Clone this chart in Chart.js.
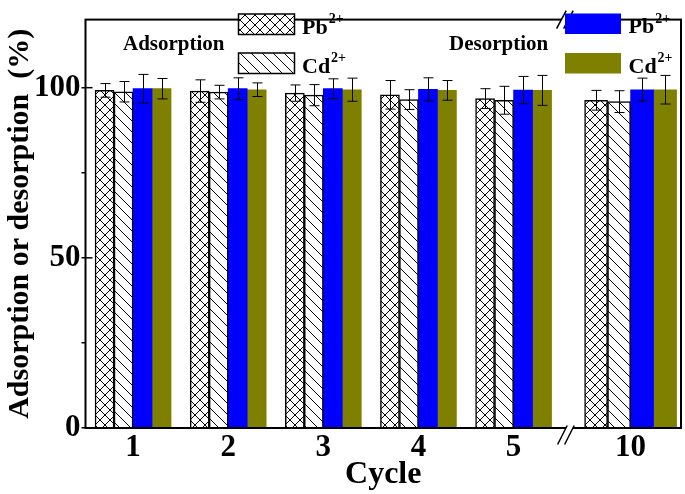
<!DOCTYPE html>
<html><head><meta charset="utf-8">
<script src="https://cdn.jsdelivr.net/npm/chart.js@4/dist/chart.umd.min.js"></script>
<style>html,body{margin:0;padding:0;background:#fff}#wrap{width:685px;height:494px;position:relative}</style>
</head><body><div id="wrap"><canvas id="c" width="685" height="494"></canvas></div>
<script>
// ---- data ----
const cycles = ['1', '2', '3', '4', '5', '10'];
const pbAds = [99.2, 99.0, 98.4, 97.9, 96.8, 96.3];
const pbAdsErr = [2.0, 3.3, 2.4, 4.2, 2.9, 2.9];
const cdAds = [98.8, 98.7, 97.8, 96.5, 96.3, 95.9];
const cdAdsErr = [3.0, 2.0, 3.1, 2.9, 4.1, 3.2];
const pbDes = [99.7, 99.7, 99.7, 99.5, 99.3, 99.4];
const pbDesErr = [4.2, 3.2, 2.9, 3.4, 4.0, 3.4];
const cdDes = [99.7, 99.4, 99.4, 99.2, 99.2, 99.4];
const cdDesErr = [3.0, 2.0, 3.4, 2.9, 4.4, 4.2];
const yTickVals = [0, 25, 50, 75, 100];
const yLabelVals = [0, 50, 100];
const groupTitles = ['Adsorption', 'Desorption'];
const ions = [['Pb', '2+'], ['Cd', '2+']];
const yTitle = 'Adsorption or desorption  (%)';
const xTitle = 'Cycle';

// ---- layout ----
const FONT = "'Liberation Serif','Times New Roman',serif";
const breakIndex = 5;          // categories from this index sit after the axis break
const breakExtra = 0.23;       // extra room taken by the break
const breakAt = 5.55;
const xMin = 0.5, xMax = 6.76;
function xPos(i) { return i + 1 + (i >= breakIndex ? breakExtra : 0); }

const canvas = document.getElementById('c');
const mainCtx = canvas.getContext('2d');
function makeHatch(cross) {
  const s = cross ? 10 : 11;
  const c = document.createElement('canvas'); c.width = s; c.height = s;
  const g = c.getContext('2d');
  g.fillStyle = '#fff'; g.fillRect(0, 0, s, s);
  g.strokeStyle = '#000'; g.lineWidth = 1;
  g.beginPath();
  g.moveTo(-2, -2); g.lineTo(s + 2, s + 2);
  if (cross) { g.moveTo(-2, s + 2); g.lineTo(s + 2, -2); }
  g.stroke();
  return mainCtx.createPattern(c, 'repeat');
}
const hatchX = makeHatch(true);
const hatchD = makeHatch(false);

const series = [
  { label: 'Pb2+ adsorption', vals: pbAds, errs: pbAdsErr, bg: hatchX, bc: '#000', bw: 1.5 },
  { label: 'Cd2+ adsorption', vals: cdAds, errs: cdAdsErr, bg: hatchD, bc: '#000', bw: 1.5 },
  { label: 'Pb2+ desorption', vals: pbDes, errs: pbDesErr, bg: '#0000FF', bc: '#0000FF', bw: 0 },
  { label: 'Cd2+ desorption', vals: cdDes, errs: cdDesErr, bg: '#808000', bc: '#808000', bw: 0 }
];
const datasets = [];
// segment before the break (thinner bars) and after it (wider bars)
[[i => i < breakIndex, 19], [i => i >= breakIndex, 23]].forEach(([keep, thick]) => {
  series.forEach(s => {
    const idx = cycles.map((c, i) => i).filter(keep);
    datasets.push({ label: s.label, data: idx.map(i => ({ x: xPos(i), y: s.vals[i] })),
      errs: idx.map(i => s.errs[i]), backgroundColor: s.bg, borderColor: s.bc, borderWidth: s.bw,
      barThickness: thick, skipNull: true });
  });
});

const errorBars = {
  id: 'errorBars',
  afterDatasetsDraw(chart) {
    const ctx = chart.ctx, ys = chart.scales.y;
    ctx.save(); ctx.strokeStyle = '#000'; ctx.lineWidth = 1;
    chart.data.datasets.forEach((ds, di) => {
      chart.getDatasetMeta(di).data.forEach((el, i) => {
        const v = ds.data[i].y, e = ds.errs[i];
        const x = Math.round(el.x) + 0.5;
        const y1 = ys.getPixelForValue(v + e), y2 = ys.getPixelForValue(v - e);
        ctx.beginPath();
        ctx.moveTo(x, y1); ctx.lineTo(x, y2);
        ctx.moveTo(x - 5, y1); ctx.lineTo(x + 5, y1);
        ctx.moveTo(x - 5, y2); ctx.lineTo(x + 5, y2);
        ctx.stroke();
      });
    });
    ctx.restore();
  }
};

const decor = {
  id: 'decor',
  afterDraw(chart) {
    const ctx = chart.ctx, a = chart.chartArea, ys = chart.scales.y, xs = chart.scales.x;
    ctx.save();
    // frame
    ctx.strokeStyle = '#000'; ctx.lineWidth = 2;
    ctx.strokeRect(a.left, a.top, a.right - a.left, a.bottom - a.top);
    // inward major ticks
    ctx.lineWidth = 1.5;
    yLabelVals.forEach(v => {
      const y = ys.getPixelForValue(v);
      ctx.beginPath(); ctx.moveTo(a.left, y); ctx.lineTo(a.left + 7, y); ctx.stroke();
    });
    // axis breaks
    const bx = xs.getPixelForValue(breakAt);
    function brk(cx, cy, h) {
      const dx = 4.8, sep = 3.5;
      ctx.fillStyle = '#fff';
      ctx.beginPath();
      ctx.moveTo(cx - sep - dx, cy + h); ctx.lineTo(cx - sep + dx, cy - h);
      ctx.lineTo(cx + sep + dx, cy - h); ctx.lineTo(cx + sep - dx, cy + h);
      ctx.closePath(); ctx.fill();
      ctx.strokeStyle = '#000'; ctx.lineWidth = 1.5;
      ctx.beginPath();
      ctx.moveTo(cx - sep - dx, cy + h); ctx.lineTo(cx - sep + dx, cy - h);
      ctx.moveTo(cx + sep - dx, cy + h); ctx.lineTo(cx + sep + dx, cy - h);
      ctx.stroke();
    }
    brk(bx - 1, a.top, 9);
    brk(bx, a.bottom + 7, 9.5);
    // legend
    ctx.fillStyle = '#000';
    ctx.textBaseline = 'alphabetic'; ctx.textAlign = 'left';
    ctx.font = 'bold 21px ' + FONT;
    ctx.fillText(groupTitles[0], 123, 50);
    ctx.fillText(groupTitles[1], 449, 49.5);
    const boxes = [
      { x: 238.5, y: 14, fill: hatchX, stroke: true, ion: ions[0] },
      { x: 238.5, y: 53, fill: hatchD, stroke: true, ion: ions[1] },
      { x: 565, y: 13.5, fill: '#0000FF', stroke: false, ion: ions[0] },
      { x: 565, y: 53, fill: '#808000', stroke: false, ion: ions[1] }
    ];
    boxes.forEach(b => {
      ctx.fillStyle = b.fill; ctx.fillRect(b.x, b.y, 56, 20.5);
      if (b.stroke) { ctx.strokeStyle = '#000'; ctx.lineWidth = 1.5; ctx.strokeRect(b.x, b.y, 56, 20.5); }
      ctx.fillStyle = '#000';
      const tx = b.x + 63.5, base = b.y + 19.5;
      ctx.font = 'bold 22px ' + FONT;
      ctx.fillText(b.ion[0], tx, base);
      const w = ctx.measureText(b.ion[0]).width;
      ctx.font = 'bold 14px ' + FONT;
      ctx.fillText(b.ion[1], tx + w + 1, base - 10.5);
    });
    ctx.restore();
  }
};

const tickFont = { family: FONT, size: 31, weight: 'bold' };
new Chart(canvas, {
  type: 'bar',
  data: { datasets },
  options: {
    responsive: false, animation: false,
    layout: { padding: { top: 9, right: 4, left: 0, bottom: 0 } },
    plugins: { legend: { display: false }, tooltip: { enabled: false } },
    scales: {
      x: {
        type: 'linear', min: xMin, max: xMax, offset: false,
        afterBuildTicks: s => { s.ticks = cycles.map((c, i) => ({ value: xPos(i) })); },
        ticks: { callback: (v, i) => cycles[i], autoSkip: false, maxRotation: 0, font: tickFont, color: '#000', padding: -7 },
        grid: { display: false }, border: { display: false },
        title: { display: true, text: xTitle, color: '#000', font: { family: FONT, size: 32, weight: 'bold' }, padding: { top: 0, bottom: 0 } },
        afterFit: s => { s.height = 66; }
      },
      y: {
        min: 0, max: 120,
        afterBuildTicks: s => { s.ticks = yTickVals.map(v => ({ value: v })); },
        ticks: { callback: v => (yLabelVals.includes(v) ? String(v) : ''), font: tickFont, color: '#000', padding: 1 },
        grid: { drawOnChartArea: false, drawTicks: true, tickLength: 4, color: '#000', lineWidth: 1.5 },
        border: { display: false },
        title: { display: true, text: yTitle, color: '#000', font: { family: FONT, size: 30, weight: 'bold' }, padding: { top: 2, bottom: 0 } },
        afterFit: s => { s.width = 85.5; }
      }
    }
  },
  plugins: [errorBars, decor]
});
</script>
</body></html>
